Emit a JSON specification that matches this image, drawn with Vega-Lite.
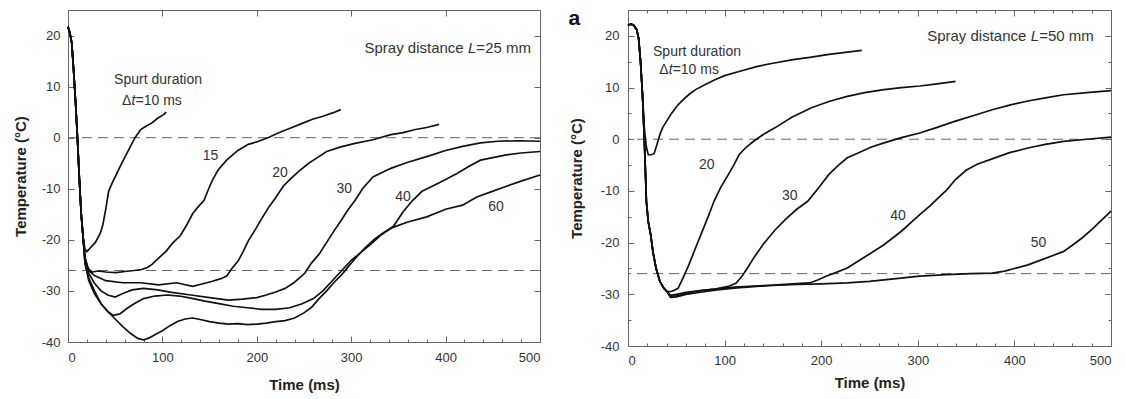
{
"$schema":"https://vega.github.io/schema/vega-lite/v6.json",
"padding":{"left":12,"top":7,"right":0,"bottom":0},
"spacing":88,
"bounds":"flush",
"config":{
 "font":"Liberation Sans",
 "view":{"stroke":"#666","strokeWidth":1},
 "axis":{"domain":false,"grid":false,"tickColor":"#666","tickWidth":1,"labelFont":"Liberation Sans","labelFontSize":13,"labelColor":"#333","titleFont":"Liberation Sans","titleFontSize":15,"titleFontWeight":"bold","titleColor":"#222"},
 "text":{"font":"Liberation Sans","fontSize":14,"color":"#333"}
},
"datasets":{
 "ref":[{"y":0},{"y":-26}],
 "L":[
 {"ms":10,"t":0,"T":21.7},{"ms":10,"t":2,"T":20.5},{"ms":10,"t":4,"T":18.5},{"ms":10,"t":6,"T":13},{"ms":10,"t":8,"T":7},{"ms":10,"t":10,"T":0},{"ms":10,"t":12,"T":-8},{"ms":10,"t":14,"T":-15},{"ms":10,"t":16,"T":-19.5},
 {"ms":10,"t":18,"T":-21.8},{"ms":10,"t":20,"T":-22.3},{"ms":10,"t":24,"T":-21.5},{"ms":10,"t":29,"T":-20.5},{"ms":10,"t":34,"T":-18.8},{"ms":10,"t":37,"T":-17},{"ms":10,"t":40,"T":-14},{"ms":10,"t":43,"T":-10.5},{"ms":10,"t":47,"T":-8.8},{"ms":10,"t":51,"T":-7.3},{"ms":10,"t":57,"T":-5},{"ms":10,"t":64,"T":-2.5},{"ms":10,"t":71,"T":0},{"ms":10,"t":77,"T":1.6},{"ms":10,"t":83,"T":2.3},{"ms":10,"t":89,"T":2.9},{"ms":10,"t":95,"T":3.8},{"ms":10,"t":102,"T":4.6},{"ms":10,"t":104,"T":5},
 {"ms":15,"t":0,"T":21.7},{"ms":15,"t":2,"T":20.5},{"ms":15,"t":4,"T":18.5},{"ms":15,"t":6,"T":13},{"ms":15,"t":8,"T":7},{"ms":15,"t":10,"T":0},{"ms":15,"t":12,"T":-8},{"ms":15,"t":14,"T":-15},{"ms":15,"t":16,"T":-19.5},
 {"ms":15,"t":18,"T":-23.5},{"ms":15,"t":21,"T":-25.5},{"ms":15,"t":25,"T":-26.3},{"ms":15,"t":32,"T":-26.1},{"ms":15,"t":40,"T":-26.3},{"ms":15,"t":51,"T":-26.4},{"ms":15,"t":60,"T":-26.2},{"ms":15,"t":70,"T":-26},{"ms":15,"t":78,"T":-25.8},{"ms":15,"t":84,"T":-25.4},{"ms":15,"t":89,"T":-24.8},{"ms":15,"t":96,"T":-23.6},{"ms":15,"t":104,"T":-22.2},{"ms":15,"t":111,"T":-20.6},{"ms":15,"t":119,"T":-19.2},{"ms":15,"t":126,"T":-17},{"ms":15,"t":132,"T":-14.9},{"ms":15,"t":138,"T":-13.5},{"ms":15,"t":144,"T":-12.3},{"ms":15,"t":149,"T":-10},{"ms":15,"t":153,"T":-8.3},{"ms":15,"t":159,"T":-6.3},{"ms":15,"t":168,"T":-4.4},{"ms":15,"t":180,"T":-2.5},{"ms":15,"t":191,"T":-1.3},{"ms":15,"t":202,"T":-0.7},{"ms":15,"t":213,"T":0.1},{"ms":15,"t":225,"T":1.1},{"ms":15,"t":236,"T":1.9},{"ms":15,"t":248,"T":2.8},{"ms":15,"t":259,"T":3.6},{"ms":15,"t":270,"T":4.2},{"ms":15,"t":281,"T":4.9},{"ms":15,"t":289,"T":5.5},
 {"ms":20,"t":0,"T":21.7},{"ms":20,"t":2,"T":20.5},{"ms":20,"t":4,"T":18.5},{"ms":20,"t":6,"T":13},{"ms":20,"t":8,"T":7},{"ms":20,"t":10,"T":0},{"ms":20,"t":12,"T":-8},{"ms":20,"t":14,"T":-15},{"ms":20,"t":16,"T":-19.5},
 {"ms":20,"t":18,"T":-23.5},{"ms":20,"t":22,"T":-26},{"ms":20,"t":28,"T":-27},{"ms":20,"t":40,"T":-28},{"ms":20,"t":58,"T":-28.4},{"ms":20,"t":77,"T":-28.4},{"ms":20,"t":96,"T":-28.8},{"ms":20,"t":115,"T":-28.4},{"ms":20,"t":132,"T":-29.1},{"ms":20,"t":145,"T":-28.5},{"ms":20,"t":153,"T":-28.1},{"ms":20,"t":162,"T":-27.6},{"ms":20,"t":168,"T":-27.1},{"ms":20,"t":174,"T":-25.5},{"ms":20,"t":180,"T":-24.2},{"ms":20,"t":185,"T":-22.5},{"ms":20,"t":191,"T":-20.2},{"ms":20,"t":199,"T":-17.8},{"ms":20,"t":206,"T":-15.6},{"ms":20,"t":213,"T":-13.5},{"ms":20,"t":219,"T":-12},{"ms":20,"t":228,"T":-9.5},{"ms":20,"t":236,"T":-8},{"ms":20,"t":245,"T":-6.5},{"ms":20,"t":255,"T":-5},{"ms":20,"t":265,"T":-3.8},{"ms":20,"t":274,"T":-2.7},{"ms":20,"t":289,"T":-1.8},{"ms":20,"t":304,"T":-1.1},{"ms":20,"t":323,"T":-0.4},{"ms":20,"t":342,"T":0.6},{"ms":20,"t":355,"T":1},{"ms":20,"t":368,"T":1.6},{"ms":20,"t":380,"T":2},{"ms":20,"t":393,"T":2.6},
 {"ms":30,"t":0,"T":21.7},{"ms":30,"t":2,"T":20.5},{"ms":30,"t":4,"T":18.5},{"ms":30,"t":6,"T":13},{"ms":30,"t":8,"T":7},{"ms":30,"t":10,"T":0},{"ms":30,"t":12,"T":-8},{"ms":30,"t":14,"T":-15},{"ms":30,"t":16,"T":-19.5},
 {"ms":30,"t":18,"T":-24},{"ms":30,"t":22,"T":-26.5},{"ms":30,"t":28,"T":-28.5},{"ms":30,"t":35,"T":-30},{"ms":30,"t":42,"T":-30.8},{"ms":30,"t":50,"T":-31.2},{"ms":30,"t":58,"T":-30.5},{"ms":30,"t":68,"T":-29.8},{"ms":30,"t":80,"T":-29.5},{"ms":30,"t":95,"T":-29.8},{"ms":30,"t":110,"T":-30.3},{"ms":30,"t":130,"T":-30.8},{"ms":30,"t":150,"T":-31.3},{"ms":30,"t":170,"T":-31.8},{"ms":30,"t":185,"T":-31.6},{"ms":30,"t":200,"T":-31.3},{"ms":30,"t":210,"T":-30.8},{"ms":30,"t":220,"T":-30.2},{"ms":30,"t":230,"T":-29.5},{"ms":30,"t":240,"T":-28.3},{"ms":30,"t":251,"T":-26.5},{"ms":30,"t":258,"T":-24.5},{"ms":30,"t":266,"T":-22.8},{"ms":30,"t":274,"T":-20.5},{"ms":30,"t":282,"T":-18.2},{"ms":30,"t":290,"T":-16},{"ms":30,"t":297,"T":-14},{"ms":30,"t":304,"T":-12.3},{"ms":30,"t":312,"T":-10},{"ms":30,"t":323,"T":-7.7},{"ms":30,"t":342,"T":-6},{"ms":30,"t":360,"T":-4.8},{"ms":30,"t":380,"T":-3.7},{"ms":30,"t":400,"T":-2.5},{"ms":30,"t":418,"T":-1.7},{"ms":30,"t":437,"T":-1},{"ms":30,"t":455,"T":-0.7},{"ms":30,"t":478,"T":-0.6},{"ms":30,"t":500,"T":-0.7},
 {"ms":40,"t":0,"T":21.7},{"ms":40,"t":2,"T":20.5},{"ms":40,"t":4,"T":18.5},{"ms":40,"t":6,"T":13},{"ms":40,"t":8,"T":7},{"ms":40,"t":10,"T":0},{"ms":40,"t":12,"T":-8},{"ms":40,"t":14,"T":-15},{"ms":40,"t":16,"T":-19.5},
 {"ms":40,"t":18,"T":-24.5},{"ms":40,"t":22,"T":-27.5},{"ms":40,"t":28,"T":-30},{"ms":40,"t":35,"T":-32.5},{"ms":40,"t":42,"T":-34},{"ms":40,"t":48,"T":-34.8},{"ms":40,"t":55,"T":-34.5},{"ms":40,"t":62,"T":-33.5},{"ms":40,"t":70,"T":-32.5},{"ms":40,"t":80,"T":-31.5},{"ms":40,"t":92,"T":-31},{"ms":40,"t":105,"T":-30.8},{"ms":40,"t":118,"T":-31},{"ms":40,"t":130,"T":-31.4},{"ms":40,"t":145,"T":-32},{"ms":40,"t":160,"T":-32.5},{"ms":40,"t":175,"T":-33},{"ms":40,"t":190,"T":-33.3},{"ms":40,"t":205,"T":-33.6},{"ms":40,"t":220,"T":-33.6},{"ms":40,"t":235,"T":-33.3},{"ms":40,"t":248,"T":-32.5},{"ms":40,"t":260,"T":-31.5},{"ms":40,"t":270,"T":-30},{"ms":40,"t":280,"T":-28},{"ms":40,"t":290,"T":-26},{"ms":40,"t":300,"T":-24},{"ms":40,"t":310,"T":-22.5},{"ms":40,"t":320,"T":-21},{"ms":40,"t":332,"T":-19},{"ms":40,"t":345,"T":-17.3},{"ms":40,"t":355,"T":-14.5},{"ms":40,"t":365,"T":-12.3},{"ms":40,"t":375,"T":-10.5},{"ms":40,"t":388,"T":-9.3},{"ms":40,"t":399,"T":-8.3},{"ms":40,"t":412,"T":-7},{"ms":40,"t":425,"T":-5.6},{"ms":40,"t":437,"T":-4.4},{"ms":40,"t":450,"T":-3.9},{"ms":40,"t":463,"T":-3.4},{"ms":40,"t":480,"T":-3},{"ms":40,"t":500,"T":-2.7},
 {"ms":60,"t":0,"T":21.7},{"ms":60,"t":2,"T":20.5},{"ms":60,"t":4,"T":18.5},{"ms":60,"t":6,"T":13},{"ms":60,"t":8,"T":7},{"ms":60,"t":10,"T":0},{"ms":60,"t":12,"T":-8},{"ms":60,"t":14,"T":-15},{"ms":60,"t":16,"T":-19.5},
 {"ms":60,"t":18,"T":-24.5},{"ms":60,"t":22,"T":-28},{"ms":60,"t":28,"T":-30.5},{"ms":60,"t":35,"T":-32.5},{"ms":60,"t":42,"T":-34},{"ms":60,"t":50,"T":-35.5},{"ms":60,"t":58,"T":-37},{"ms":60,"t":66,"T":-38.3},{"ms":60,"t":74,"T":-39.3},{"ms":60,"t":80,"T":-39.6},{"ms":60,"t":86,"T":-39.2},{"ms":60,"t":92,"T":-38.6},{"ms":60,"t":100,"T":-37.8},{"ms":60,"t":108,"T":-36.8},{"ms":60,"t":116,"T":-36},{"ms":60,"t":124,"T":-35.5},{"ms":60,"t":132,"T":-35.3},{"ms":60,"t":140,"T":-35.6},{"ms":60,"t":150,"T":-36},{"ms":60,"t":160,"T":-36.3},{"ms":60,"t":170,"T":-36.5},{"ms":60,"t":180,"T":-36.4},{"ms":60,"t":190,"T":-36.6},{"ms":60,"t":200,"T":-36.5},{"ms":60,"t":210,"T":-36.3},{"ms":60,"t":220,"T":-36},{"ms":60,"t":230,"T":-35.8},{"ms":60,"t":240,"T":-35.3},{"ms":60,"t":250,"T":-34.3},{"ms":60,"t":258,"T":-33.2},{"ms":60,"t":266,"T":-31.5},{"ms":60,"t":274,"T":-30},{"ms":60,"t":282,"T":-28.3},{"ms":60,"t":290,"T":-26.8},{"ms":60,"t":298,"T":-25},{"ms":60,"t":305,"T":-23.5},{"ms":60,"t":315,"T":-21.5},{"ms":60,"t":325,"T":-19.8},{"ms":60,"t":335,"T":-18.5},{"ms":60,"t":345,"T":-17.5},{"ms":60,"t":360,"T":-16.5},{"ms":60,"t":380,"T":-15.5},{"ms":60,"t":400,"T":-14},{"ms":60,"t":418,"T":-13.2},{"ms":60,"t":433,"T":-11.6},{"ms":60,"t":448,"T":-10.6},{"ms":60,"t":463,"T":-9.6},{"ms":60,"t":480,"T":-8.5},{"ms":60,"t":500,"T":-7.3}
 ],
 "R":[
 {"ms":10,"t":0,"T":22},{"ms":10,"t":3,"T":22.3},{"ms":10,"t":6,"T":22},{"ms":10,"t":9,"T":21.2},{"ms":10,"t":11,"T":19.5},{"ms":10,"t":13,"T":15},{"ms":10,"t":15,"T":8.6},
 {"ms":10,"t":17,"T":2},{"ms":10,"t":19,"T":-1.5},{"ms":10,"t":21,"T":-3},{"ms":10,"t":24,"T":-3},{"ms":10,"t":27,"T":-2.8},{"ms":10,"t":30,"T":-1},{"ms":10,"t":33,"T":0.9},{"ms":10,"t":36,"T":2.3},{"ms":10,"t":40,"T":3.5},{"ms":10,"t":45,"T":5},{"ms":10,"t":52,"T":6.7},{"ms":10,"t":58,"T":7.8},{"ms":10,"t":64,"T":8.8},{"ms":10,"t":70,"T":9.6},{"ms":10,"t":80,"T":10.6},{"ms":10,"t":90,"T":11.5},{"ms":10,"t":100,"T":12.3},{"ms":10,"t":115,"T":13.1},{"ms":10,"t":134,"T":14.1},{"ms":10,"t":150,"T":14.7},{"ms":10,"t":171,"T":15.4},{"ms":10,"t":190,"T":15.9},{"ms":10,"t":208,"T":16.4},{"ms":10,"t":225,"T":16.8},{"ms":10,"t":242,"T":17.2},
 {"ms":20,"t":0,"T":22},{"ms":20,"t":3,"T":22.3},{"ms":20,"t":6,"T":22},{"ms":20,"t":9,"T":21.2},{"ms":20,"t":11,"T":19.5},{"ms":20,"t":13,"T":15},{"ms":20,"t":15,"T":8.6},{"ms":20,"t":16,"T":4},{"ms":20,"t":17,"T":-0.4},{"ms":20,"t":18,"T":-6},{"ms":20,"t":19,"T":-12},{"ms":20,"t":21,"T":-16},{"ms":20,"t":23.5,"T":-18.5},{"ms":20,"t":26,"T":-22},{"ms":20,"t":29,"T":-24.9},{"ms":20,"t":33,"T":-27.5},{"ms":20,"t":37,"T":-28.8},{"ms":20,"t":40,"T":-29.4},
 {"ms":20,"t":44,"T":-29.5},{"ms":20,"t":48,"T":-29.2},{"ms":20,"t":52,"T":-28.8},{"ms":20,"t":57,"T":-26.8},{"ms":20,"t":63,"T":-24.3},{"ms":20,"t":70,"T":-21},{"ms":20,"t":78,"T":-17.3},{"ms":20,"t":84,"T":-14.5},{"ms":20,"t":89,"T":-12},{"ms":20,"t":96,"T":-9.3},{"ms":20,"t":104,"T":-6.8},{"ms":20,"t":110,"T":-4.8},{"ms":20,"t":115,"T":-3},{"ms":20,"t":122,"T":-1.6},{"ms":20,"t":130,"T":-0.4},{"ms":20,"t":140,"T":0.9},{"ms":20,"t":152,"T":2.2},{"ms":20,"t":170,"T":4.3},{"ms":20,"t":190,"T":6.1},{"ms":20,"t":208,"T":7.3},{"ms":20,"t":227,"T":8.3},{"ms":20,"t":245,"T":9},{"ms":20,"t":265,"T":9.6},{"ms":20,"t":283,"T":10},{"ms":20,"t":302,"T":10.3},{"ms":20,"t":320,"T":10.7},{"ms":20,"t":339,"T":11.2},
 {"ms":30,"t":0,"T":22},{"ms":30,"t":3,"T":22.3},{"ms":30,"t":6,"T":22},{"ms":30,"t":9,"T":21.2},{"ms":30,"t":11,"T":19.5},{"ms":30,"t":13,"T":15},{"ms":30,"t":15,"T":8.6},{"ms":30,"t":16,"T":4},{"ms":30,"t":17,"T":-0.4},{"ms":30,"t":18,"T":-6},{"ms":30,"t":19,"T":-12},{"ms":30,"t":21,"T":-16},{"ms":30,"t":23.5,"T":-18.5},{"ms":30,"t":26,"T":-22},{"ms":30,"t":29,"T":-24.9},{"ms":30,"t":33,"T":-27.5},{"ms":30,"t":37,"T":-28.8},{"ms":30,"t":40,"T":-29.4},
 {"ms":30,"t":44,"T":-30.2},{"ms":30,"t":50,"T":-30},{"ms":30,"t":60,"T":-29.6},{"ms":30,"t":75,"T":-29.3},{"ms":30,"t":90,"T":-29},{"ms":30,"t":105,"T":-28.4},{"ms":30,"t":112,"T":-27.8},{"ms":30,"t":118,"T":-26.5},{"ms":30,"t":124,"T":-24.8},{"ms":30,"t":130,"T":-23},{"ms":30,"t":140,"T":-20.3},{"ms":30,"t":152,"T":-17.6},{"ms":30,"t":163,"T":-15.5},{"ms":30,"t":175,"T":-13.5},{"ms":30,"t":186,"T":-12},{"ms":30,"t":197,"T":-9.5},{"ms":30,"t":208,"T":-6.8},{"ms":30,"t":218,"T":-5},{"ms":30,"t":227,"T":-3.6},{"ms":30,"t":240,"T":-2.5},{"ms":30,"t":252,"T":-1.5},{"ms":30,"t":265,"T":-0.7},{"ms":30,"t":283,"T":0.3},{"ms":30,"t":302,"T":1.2},{"ms":30,"t":320,"T":2.3},{"ms":30,"t":339,"T":3.5},{"ms":30,"t":358,"T":4.6},{"ms":30,"t":377,"T":5.7},{"ms":30,"t":395,"T":6.6},{"ms":30,"t":414,"T":7.4},{"ms":30,"t":432,"T":8},{"ms":30,"t":451,"T":8.6},{"ms":30,"t":475,"T":9},{"ms":30,"t":500,"T":9.4},
 {"ms":40,"t":0,"T":22},{"ms":40,"t":3,"T":22.3},{"ms":40,"t":6,"T":22},{"ms":40,"t":9,"T":21.2},{"ms":40,"t":11,"T":19.5},{"ms":40,"t":13,"T":15},{"ms":40,"t":15,"T":8.6},{"ms":40,"t":16,"T":4},{"ms":40,"t":17,"T":-0.4},{"ms":40,"t":18,"T":-6},{"ms":40,"t":19,"T":-12},{"ms":40,"t":21,"T":-16},{"ms":40,"t":23.5,"T":-18.5},{"ms":40,"t":26,"T":-22},{"ms":40,"t":29,"T":-24.9},{"ms":40,"t":33,"T":-27.5},{"ms":40,"t":37,"T":-28.8},{"ms":40,"t":40,"T":-29.4},
 {"ms":40,"t":44,"T":-30.4},{"ms":40,"t":50,"T":-30.3},{"ms":40,"t":60,"T":-29.8},{"ms":40,"t":75,"T":-29.3},{"ms":40,"t":90,"T":-29},{"ms":40,"t":110,"T":-28.6},{"ms":40,"t":130,"T":-28.4},{"ms":40,"t":150,"T":-28.2},{"ms":40,"t":170,"T":-28},{"ms":40,"t":188,"T":-27.8},{"ms":40,"t":197,"T":-27.2},{"ms":40,"t":205,"T":-26.5},{"ms":40,"t":215,"T":-25.8},{"ms":40,"t":227,"T":-24.9},{"ms":40,"t":245,"T":-22.8},{"ms":40,"t":265,"T":-20.4},{"ms":40,"t":283,"T":-17.8},{"ms":40,"t":302,"T":-14.6},{"ms":40,"t":312,"T":-13},{"ms":40,"t":321,"T":-11.4},{"ms":40,"t":330,"T":-9.8},{"ms":40,"t":339,"T":-7.8},{"ms":40,"t":350,"T":-6},{"ms":40,"t":362,"T":-4.8},{"ms":40,"t":377,"T":-3.8},{"ms":40,"t":395,"T":-2.6},{"ms":40,"t":414,"T":-1.7},{"ms":40,"t":432,"T":-1},{"ms":40,"t":451,"T":-0.4},{"ms":40,"t":475,"T":0},{"ms":40,"t":500,"T":0.4},
 {"ms":50,"t":0,"T":22},{"ms":50,"t":3,"T":22.3},{"ms":50,"t":6,"T":22},{"ms":50,"t":9,"T":21.2},{"ms":50,"t":11,"T":19.5},{"ms":50,"t":13,"T":15},{"ms":50,"t":15,"T":8.6},{"ms":50,"t":16,"T":4},{"ms":50,"t":17,"T":-0.4},{"ms":50,"t":18,"T":-6},{"ms":50,"t":19,"T":-12},{"ms":50,"t":21,"T":-16},{"ms":50,"t":23.5,"T":-18.5},{"ms":50,"t":26,"T":-22},{"ms":50,"t":29,"T":-24.9},{"ms":50,"t":33,"T":-27.5},{"ms":50,"t":37,"T":-28.8},{"ms":50,"t":40,"T":-29.4},
 {"ms":50,"t":44,"T":-30.6},{"ms":50,"t":50,"T":-30.5},{"ms":50,"t":60,"T":-30},{"ms":50,"t":75,"T":-29.6},{"ms":50,"t":90,"T":-29.2},{"ms":50,"t":110,"T":-28.8},{"ms":50,"t":130,"T":-28.5},{"ms":50,"t":150,"T":-28.3},{"ms":50,"t":175,"T":-28.1},{"ms":50,"t":200,"T":-28},{"ms":50,"t":227,"T":-27.8},{"ms":50,"t":250,"T":-27.5},{"ms":50,"t":275,"T":-27},{"ms":50,"t":302,"T":-26.5},{"ms":50,"t":330,"T":-26.2},{"ms":50,"t":355,"T":-26},{"ms":50,"t":377,"T":-25.9},{"ms":50,"t":390,"T":-25.5},{"ms":50,"t":400,"T":-25},{"ms":50,"t":414,"T":-24.3},{"ms":50,"t":430,"T":-23.2},{"ms":50,"t":440,"T":-22.5},{"ms":50,"t":451,"T":-21.7},{"ms":50,"t":460,"T":-20.5},{"ms":50,"t":470,"T":-19.1},{"ms":50,"t":480,"T":-17.5},{"ms":50,"t":490,"T":-15.7},{"ms":50,"t":500,"T":-13.9}
 ],
 "Lc":[{"t":151,"T":-3.5,"label":"15"},{"t":224.5,"T":-7,"label":"20"},{"t":292.7,"T":-10,"label":"30"},{"t":355,"T":-11.6,"label":"40"},{"t":453.5,"T":-13.6,"label":"60"},{"t":95.4,"T":11.2,"label":"Spurt duration"}],
 "Lr":[{"t":419.2,"T":17.6,"label":"Spray distance","fs":15},{"t":67.1,"T":7.1,"label":"Δ","fs":14}],
 "Li":[{"t":423.6,"T":17.6,"label":"L","fs":15},{"t":67.3,"T":7.1,"label":"t","fs":14}],
 "Ll":[{"t":432.6,"T":17.6,"label":"=25 mm","fs":15},{"t":71.5,"T":7.1,"label":"=10 ms","fs":14}],
 "Rc":[{"t":81.5,"T":-4.9,"label":"20"},{"t":167.4,"T":-11,"label":"30"},{"t":279.5,"T":-14.9,"label":"40"},{"t":425,"T":-20.1,"label":"50"},{"t":71.4,"T":16.8,"label":"Spurt duration"}],
 "Rr":[{"t":412.4,"T":20,"label":"Spray distance","fs":15},{"t":42.1,"T":13.4,"label":"Δ","fs":14}],
 "Ri":[{"t":416.8,"T":20,"label":"L","fs":15},{"t":42.3,"T":13.4,"label":"t","fs":14}],
 "Rl":[{"t":425.6,"T":20,"label":"=50 mm","fs":15},{"t":46.2,"T":13.4,"label":"=10 ms","fs":14}],
 "Ra":[{"t":-55.6,"T":23.2,"label":"a"}]
},
"hconcat":[
 {
  "width":472,"height":332,
  "resolve":{"axis":{"x":"independent","y":"independent"}},
  "layer":[
   {"data":{"name":"ref"},"mark":{"type":"rule","strokeDash":[10,6],"color":"#666","strokeWidth":1},
    "encoding":{"y":{"field":"y","type":"quantitative","scale":{"domain":[-40,25],"nice":false,"zero":false},
      "axis":{"orient":"left","values":[-40,-30,-20,-10,0,10,20],"tickSize":-6,"labelPadding":14,"labelExpr":"toString(datum.value)","title":"Temperature (°C)","titlePadding":13}}}},
   {"data":{"name":"L"},"mark":{"type":"line","color":"#111","strokeWidth":1.7},
    "encoding":{
     "x":{"field":"t","type":"quantitative","scale":{"domain":[0,500],"nice":false,"zero":false},
      "axis":{"orient":"bottom","values":[0,20,40,60,80,100,120,140,160,180,200,220,240,260,280,300,320,340,360,380,400,420,440,460,480,500],"tickSize":{"condition":{"test":"datum.value % 100 === 0","value":-6},"value":-3},"labelExpr":"datum.value % 100 === 0 ? toString(datum.value) : ''","labelPadding":15,"title":"Time (ms)","titlePadding":13}},
     "y":{"field":"T","type":"quantitative","scale":{"domain":[-40,25],"nice":false,"zero":false},
      "axis":{"orient":"right","values":[-40,-30,-20,-10,0,10,20],"tickSize":-6,"labels":false,"title":null}},
     "detail":{"field":"ms"}}},
   {"data":{"name":"Lc"},"mark":{"type":"text","align":"center","baseline":"middle"},
    "encoding":{
     "x":{"field":"t","type":"quantitative","axis":{"orient":"top","values":[0,100,200,300,400,500],"tickSize":-6,"labels":false,"title":null}},
     "y":{"field":"T","type":"quantitative","axis":null},
     "text":{"field":"label"}}},
   {"data":{"name":"Lr"},"mark":{"type":"text","align":"right","baseline":"middle"},
    "encoding":{"x":{"field":"t","type":"quantitative","axis":null},"y":{"field":"T","type":"quantitative","axis":null},"text":{"field":"label"},"size":{"field":"fs","type":"quantitative","scale":null}}},
   {"data":{"name":"Li"},"mark":{"type":"text","align":"left","baseline":"middle","fontStyle":"italic"},
    "encoding":{"x":{"field":"t","type":"quantitative","axis":null},"y":{"field":"T","type":"quantitative","axis":null},"text":{"field":"label"},"size":{"field":"fs","type":"quantitative","scale":null}}},
   {"data":{"name":"Ll"},"mark":{"type":"text","align":"left","baseline":"middle"},
    "encoding":{"x":{"field":"t","type":"quantitative","axis":null},"y":{"field":"T","type":"quantitative","axis":null},"text":{"field":"label"},"size":{"field":"fs","type":"quantitative","scale":null}}}
  ]
 },
 {
  "width":483,"height":336,
  "resolve":{"axis":{"x":"independent","y":"independent"}},
  "layer":[
   {"data":{"name":"ref"},"mark":{"type":"rule","strokeDash":[10,6],"color":"#666","strokeWidth":1},
    "encoding":{"y":{"field":"y","type":"quantitative","scale":{"domain":[-40,25],"nice":false,"zero":false},
      "axis":{"orient":"left","values":[-40,-35,-30,-25,-20,-15,-10,-5,0,5,10,15,20],"tickSize":{"condition":{"test":"datum.value % 10 === 0","value":-6},"value":-3},"labelPadding":15,"labelExpr":"datum.value % 10 === 0 ? toString(datum.value) : ''","title":"Temperature (°C)","titlePadding":16}}}},
   {"data":{"name":"R"},"mark":{"type":"line","color":"#111","strokeWidth":1.7},
    "encoding":{
     "x":{"field":"t","type":"quantitative","scale":{"domain":[0,500],"nice":false,"zero":false},
      "axis":{"orient":"bottom","values":[0,20,40,60,80,100,120,140,160,180,200,220,240,260,280,300,320,340,360,380,400,420,440,460,480,500],"tickSize":{"condition":{"test":"datum.value % 100 === 0","value":-6},"value":-3},"labelExpr":"datum.value % 100 === 0 ? toString(datum.value) : ''","labelPadding":14,"title":"Time (ms)","titlePadding":8}},
     "y":{"field":"T","type":"quantitative","scale":{"domain":[-40,25],"nice":false,"zero":false},
      "axis":{"orient":"right","values":[-40,-35,-30,-25,-20,-15,-10,-5,0,5,10,15,20],"tickSize":{"condition":{"test":"datum.value % 10 === 0","value":-6},"value":-3},"labels":false,"title":null}},
     "detail":{"field":"ms"}}},
   {"data":{"name":"Rc"},"mark":{"type":"text","align":"center","baseline":"middle"},
    "encoding":{
     "x":{"field":"t","type":"quantitative","axis":{"orient":"top","values":[0,20,40,60,80,100,120,140,160,180,200,220,240,260,280,300,320,340,360,380,400,420,440,460,480,500],"tickSize":{"condition":{"test":"datum.value % 100 === 0","value":-6},"value":-3},"labels":false,"title":null}},
     "y":{"field":"T","type":"quantitative","axis":null},
     "text":{"field":"label"}}},
   {"data":{"name":"Rr"},"mark":{"type":"text","align":"right","baseline":"middle"},
    "encoding":{"x":{"field":"t","type":"quantitative","axis":null},"y":{"field":"T","type":"quantitative","axis":null},"text":{"field":"label"},"size":{"field":"fs","type":"quantitative","scale":null}}},
   {"data":{"name":"Ri"},"mark":{"type":"text","align":"left","baseline":"middle","fontStyle":"italic"},
    "encoding":{"x":{"field":"t","type":"quantitative","axis":null},"y":{"field":"T","type":"quantitative","axis":null},"text":{"field":"label"},"size":{"field":"fs","type":"quantitative","scale":null}}},
   {"data":{"name":"Rl"},"mark":{"type":"text","align":"left","baseline":"middle"},
    "encoding":{"x":{"field":"t","type":"quantitative","axis":null},"y":{"field":"T","type":"quantitative","axis":null},"text":{"field":"label"},"size":{"field":"fs","type":"quantitative","scale":null}}},
   {"data":{"name":"Ra"},"mark":{"type":"text","align":"center","baseline":"middle","fontSize":21,"fontWeight":"bold","color":"#111"},
    "encoding":{"x":{"field":"t","type":"quantitative","axis":null},"y":{"field":"T","type":"quantitative","axis":null},"text":{"field":"label"}}}
  ]
 }
]
}
